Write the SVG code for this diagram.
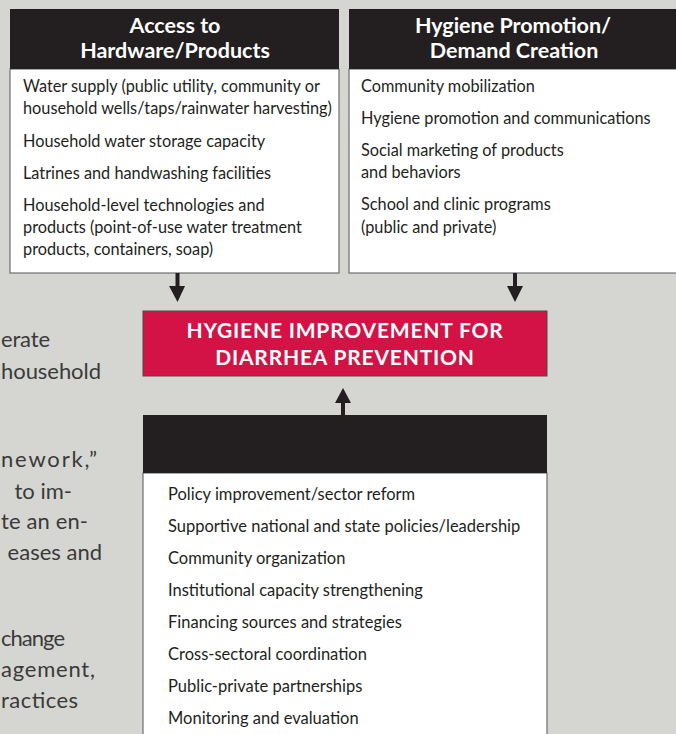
<svg xmlns="http://www.w3.org/2000/svg" width="676" height="734" viewBox="0 0 676 734">
<style>
.bg{fill:#d5d6d1}
.hdr{fill:#231f20}
.body{fill:#ffffff;stroke:#6d6e70;stroke-width:1.2}
.red{fill:#d31245;stroke:#4a4a4a;stroke-width:1}
.ht{font-family:Lato,"Open Sans",sans-serif;font-weight:bold;font-size:21.5px;fill:#ffffff;text-anchor:middle}
.rt{font-family:Lato,"Open Sans",sans-serif;font-weight:bold;font-size:21px;letter-spacing:0.8px;fill:#ffffff;text-anchor:middle}
.it{font-family:Lato,"Open Sans",sans-serif;font-size:16.3px;fill:#231f20}
.bt{font-family:Lato,"Open Sans",sans-serif;font-size:16.5px;fill:#231f20}
.side{font-family:Lato,"Open Sans",sans-serif;font-size:22px;fill:#3a3a3a}
.arr{fill:#231f20}
</style>
<rect class="bg" x="0" y="0" width="676" height="734"/>
<g id="background-text">
<text class="side" x="1" y="347" textLength="49">erate</text>
<text class="side" x="1" y="379" textLength="100">household</text>
<text class="side" x="1" y="467" textLength="96">nework,”</text>
<text class="side" x="72" y="499" text-anchor="end">to im-</text>
<text class="side" x="1" y="529" textLength="87">te an en-</text>
<text class="side" x="102" y="560" text-anchor="end">eases and</text>
<text class="side" x="1" y="646" textLength="64">change</text>
<text class="side" x="1" y="677" textLength="94">agement,</text>
<text class="side" x="1" y="708" textLength="77">ractices</text>
</g>
<g id="node-hardware">
<rect class="body" x="10" y="69" width="329" height="204"/>
<rect class="hdr" x="10" y="9" width="329" height="60"/>
<text class="ht" x="175" y="33">Access to</text>
<text class="ht" x="175" y="58">Hardware/Products</text>
<text class="it" x="23" y="92">Water supply (public utility, community or</text>
<text class="it" x="23" y="114">household wells/taps/rainwater harvesting)</text>
<text class="it" x="23" y="147">Household water storage capacity</text>
<text class="it" x="23" y="179">Latrines and handwashing facilities</text>
<text class="it" x="23" y="211">Household-level technologies and</text>
<text class="it" x="23" y="233">products (point-of-use water treatment</text>
<text class="it" x="23" y="255">products, containers, soap)</text>
</g>
<g id="node-promotion">
<rect class="body" x="349" y="69" width="340" height="204"/>
<rect class="hdr" x="349" y="9" width="340" height="60"/>
<text class="ht" x="513" y="33">Hygiene Promotion/</text>
<text class="ht" x="514" y="58">Demand Creation</text>
<text class="it" x="361" y="92">Community mobilization</text>
<text class="it" x="361" y="124">Hygiene promotion and communications</text>
<text class="it" x="361" y="156">Social marketing of products</text>
<text class="it" x="361" y="178">and behaviors</text>
<text class="it" x="361" y="210">School and clinic programs</text>
<text class="it" x="361" y="233">(public and private)</text>
</g>
<g id="node-hygiene-improvement">
<rect class="red" x="143" y="311" width="404" height="65"/>
<text class="rt" x="345" y="338">HYGIENE IMPROVEMENT FOR</text>
<text class="rt" x="345" y="365">DIARRHEA PREVENTION</text>
</g>
<g id="node-enabling">
<rect class="body" x="143" y="473" width="404" height="280"/>
<rect class="hdr" x="143" y="415" width="404" height="58"/>
<text class="bt" x="168" y="500">Policy improvement/sector reform</text>
<text class="bt" x="168" y="532">Supportive national and state policies/leadership</text>
<text class="bt" x="168" y="564">Community organization</text>
<text class="bt" x="168" y="596">Institutional capacity strengthening</text>
<text class="bt" x="168" y="628">Financing sources and strategies</text>
<text class="bt" x="168" y="660">Cross-sectoral coordination</text>
<text class="bt" x="168" y="692">Public-private partnerships</text>
<text class="bt" x="168" y="724">Monitoring and evaluation</text>
</g>
<g id="connectors">
<rect class="arr" x="175.5" y="273" width="4" height="14"/>
<polygon class="arr" points="169,286 185,286 177.5,302"/>
<rect class="arr" x="513" y="273" width="4" height="14"/>
<polygon class="arr" points="507,286 523,286 515,302"/>
<rect class="arr" x="341" y="402" width="4" height="13"/>
<polygon class="arr" points="335,403 351,403 343,388"/>
</g>
</svg>
